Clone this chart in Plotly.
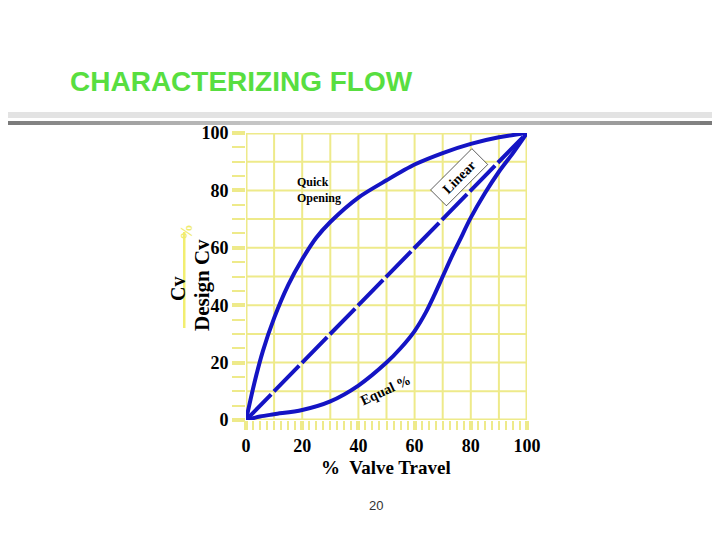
import plotly.graph_objects as go

# ---------------- data ----------------
quick_x = [0, 3, 6, 10, 15, 20, 25, 30, 40, 50, 60, 70, 80, 90, 100]
quick_y = [0, 13, 24, 35.5, 47, 56, 63.5, 69, 77.5, 83.5, 89, 93, 96.2, 98.5, 100]

linear_x = [0, 100]
linear_y = [0, 100]

equal_x = [0, 5, 10, 20, 30, 40, 50, 55, 60, 64, 67, 70, 73, 76, 80, 85, 90, 95, 100]
equal_y = [0, 1.2, 2, 3.5, 6.5, 12, 20, 25, 31, 37.5, 43.5, 50, 56.5, 62.5, 70.5, 79, 86.5, 93, 100]

tick_vals = [0, 20, 40, 60, 80, 100]
tick_text = ["0", "20", "40", "60", "80", "100"]
grid_vals = [0, 10, 20, 30, 40, 50, 60, 70, 80, 90, 100]

# ---------------- styles ----------------
BLUE = "#1414C4"
YEL = "#EEEA8A"
SERIF = "Liberation Serif"
OFF = 8  # page body margin
W, H = 720 - OFF, 540 - OFF
L, R, T, B = 246 - OFF, 527 - OFF, 133 - OFF, 420 - OFF

fig = go.Figure()
fig.add_trace(go.Scatter(x=quick_x, y=quick_y, mode="lines",
                         line=dict(color=BLUE, width=4, shape="spline", smoothing=0.8),
                         hoverinfo="skip", showlegend=False))
fig.add_trace(go.Scatter(x=equal_x, y=equal_y, mode="lines",
                         line=dict(color=BLUE, width=4, shape="spline", smoothing=0.9),
                         hoverinfo="skip", showlegend=False))
fig.add_trace(go.Scatter(x=linear_x, y=linear_y, mode="lines",
                         line=dict(color=BLUE, width=4, dash="36px,4px"),
                         hoverinfo="skip", showlegend=False))

shapes = []
for v in grid_vals:
    wdt = 3 if v in (0, 100) else 2
    shapes.append(dict(type="line", xref="x", yref="y", x0=v, x1=v, y0=0, y1=100,
                       line=dict(color=YEL, width=wdt), layer="below"))
    shapes.append(dict(type="line", xref="x", yref="y", x0=0, x1=100, y0=v, y1=v,
                       line=dict(color=YEL, width=wdt), layer="below"))


def band_rect(x0, x1, y0, y1, col):
    # coordinates given in reference-page pixels
    x0, x1, y0, y1 = x0 - OFF, x1 - OFF, y0 - OFF, y1 - OFF
    return dict(type="rect", xref="paper", yref="paper",
                x0=(x0 - L) / (R - L), x1=(x1 - L) / (R - L),
                y0=(B - y1) / (B - T), y1=(B - y0) / (B - T),
                fillcolor=col, line=dict(width=0), layer="above")


shapes.append(band_rect(0, 730, 112, 118, "#E3E3E3"))
nseg = 36
for i in range(nseg):
    t = (i + 0.5) / nseg
    d = abs(t - 0.5) * 2
    g = int(0xDA - (0xDA - 0x78) * d ** 1.3)
    col = "#%02x%02x%02x" % (g, g, g)
    shapes.append(band_rect(720 * i / nseg, 720 * (i + 1) / nseg + 0.5, 121, 125, col))

# fraction bar of y title
shapes.append(band_rect(183, 185.5, 232, 328, "#F2EE70"))


def pa(xp, yp):
    xp, yp = xp - OFF, yp - OFF
    return (xp - L) / (R - L), (B - yp) / (B - T)


annotations = []
ax, ay = pa(68, 82)
annotations.append(dict(text="<b>CHARACTERIZING FLOW</b>", xref="paper", yref="paper",
                        x=ax, y=ay, xanchor="left", yanchor="middle", showarrow=False,
                        font=dict(family="Liberation Sans", size=28, color="#58DE40")))
ax, ay = pa(386, 467)
annotations.append(dict(text="<b>%  Valve Travel</b>", xref="paper", yref="paper", x=ax, y=ay,
                        xanchor="center", yanchor="middle", showarrow=False,
                        font=dict(family=SERIF, size=19, color="black")))
ax, ay = pa(202, 285)
annotations.append(dict(text="<b>Design Cv</b>", xref="paper", yref="paper", x=ax, y=ay,
                        xanchor="center", yanchor="middle", showarrow=False, textangle=-90,
                        font=dict(family=SERIF, size=21, color="black")))
ax, ay = pa(178, 289)
annotations.append(dict(text="<b>Cv</b>", xref="paper", yref="paper", x=ax, y=ay,
                        xanchor="center", yanchor="middle", showarrow=False, textangle=-90,
                        font=dict(family=SERIF, size=20, color="black")))
ax, ay = pa(186, 232)
annotations.append(dict(text="<b>%</b>", xref="paper", yref="paper", x=ax, y=ay,
                        xanchor="center", yanchor="middle", showarrow=False, textangle=-90,
                        font=dict(family=SERIF, size=16, color="#F0EC70")))
ax, ay = pa(376, 505)
annotations.append(dict(text="20", xref="paper", yref="paper", x=ax, y=ay,
                        xanchor="center", yanchor="middle", showarrow=False,
                        font=dict(family="Liberation Sans", size=13, color="#333333")))
annotations.append(dict(text="<b>Quick<br>Opening</b>", xref="x", yref="y", x=17.5, y=86,
                        xanchor="left", yanchor="top", align="left", showarrow=False,
                        font=dict(family=SERIF, size=12, color="black")))
annotations.append(dict(text="<b>Linear</b>", xref="x", yref="y", x=75.8, y=84.4,
                        xanchor="center", yanchor="middle", showarrow=False, textangle=-45,
                        width=56, height=20, bgcolor="white", bordercolor="black",
                        borderwidth=0.6, borderpad=1,
                        font=dict(family=SERIF, size=14, color="black")))
annotations.append(dict(text="<b>Equal %</b>", xref="x", yref="y", x=49.5, y=10.3,
                        xanchor="center", yanchor="middle", showarrow=False, textangle=-25,
                        font=dict(family=SERIF, size=14, color="black")))

axis_common = dict(range=[0, 100], showgrid=False, zeroline=False, showline=False,
                   tickvals=tick_vals, ticktext=tick_text, ticks="outside",
                   tickwidth=4, tickcolor=YEL, fixedrange=True,
                   tickfont=dict(family=SERIF, size=18, color="black", weight="bold"))

fig.update_layout(
    width=W, height=H, autosize=False,
    margin=dict(l=L, r=W - R, t=T, b=H - B, pad=0),
    paper_bgcolor="white", plot_bgcolor="white",
    xaxis=dict(**axis_common, ticklen=9,
               minor=dict(dtick=2.5, tick0=0, ticks="outside", ticklen=9,
                          tickwidth=2, tickcolor=YEL)),
    yaxis=dict(**axis_common, ticklen=13,
               minor=dict(dtick=5, tick0=0, ticks="outside", ticklen=13,
                          tickwidth=2, tickcolor=YEL)),
    shapes=shapes, annotations=annotations, showlegend=False,
)

fig.write_html("out.html")
